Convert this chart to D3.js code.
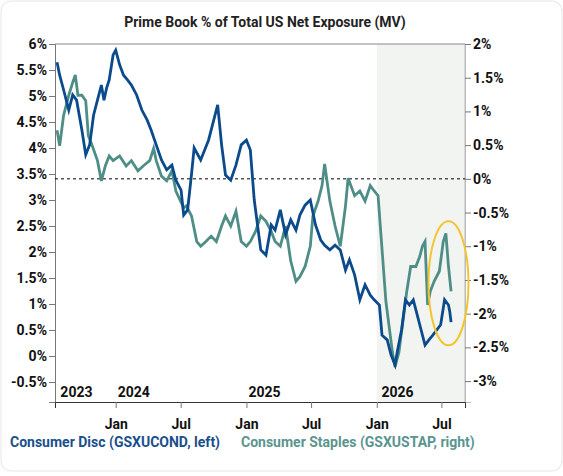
<!DOCTYPE html>
<html><head><meta charset="utf-8">
<script src="https://cdn.jsdelivr.net/npm/d3@7"></script>
<style>body{margin:0;background:#fff}text{font-family:Roboto,"Noto Sans",sans-serif;font-weight:700}</style>
</head><body>
<svg id="c" width="563" height="476"></svg>
<script>
const discT=[2023.55,2023.57,2023.60,2023.64,2023.67,2023.70,2023.74,2023.77,2023.80,2023.83,2023.86,2023.89,2023.91,2023.93,2023.95,2023.98,2024.00,2024.03,2024.06,2024.09,2024.12,2024.16,2024.20,2024.24,2024.27,2024.31,2024.35,2024.39,2024.43,2024.46,2024.50,2024.52,2024.55,2024.58,2024.60,2024.65,2024.71,2024.74,2024.78,2024.81,2024.84,2024.88,2024.92,2024.96,2025.00,2025.03,2025.06,2025.11,2025.15,2025.19,2025.22,2025.26,2025.30,2025.34,2025.38,2025.41,2025.45,2025.49,2025.53,2025.57,2025.60,2025.64,2025.68,2025.72,2025.76,2025.79,2025.83,2025.87,2025.91,2025.95,2025.98,2026.02,2026.04,2026.08,2026.11,2026.14,2026.16,2026.19,2026.22,2026.25,2026.28,2026.31,2026.34,2026.37,2026.40,2026.43,2026.46,2026.49,2026.52,2026.55,2026.56,2026.57];
const discV=[5.65,5.40,5.12,4.73,5.02,4.92,4.35,3.87,4.06,4.63,4.92,5.21,4.92,5.15,5.31,5.79,5.88,5.60,5.40,5.31,5.21,5.02,4.73,4.54,4.35,4.06,3.77,3.58,3.67,3.38,3.19,2.71,2.81,3.5,4.0,3.77,4.15,4.44,4.83,4.06,3.48,3.38,3.67,4.06,4.15,3.96,3.0,2.04,1.94,2.52,2.42,2.81,2.33,2.62,2.42,2.71,2.9,3.0,2.52,2.23,2.13,2.04,2.13,2.04,1.65,1.85,1.56,1.08,1.37,1.17,1.08,0.98,0.40,0.31,0.02,-0.17,0.12,0.5,1.08,0.98,1.08,0.79,0.5,0.21,0.31,0.40,0.5,0.6,1.08,0.98,0.85,0.65];
const stapT=[2023.55,2023.57,2023.60,2023.64,2023.67,2023.69,2023.71,2023.74,2023.77,2023.79,2023.82,2023.86,2023.89,2023.92,2023.95,2023.98,2024.03,2024.08,2024.12,2024.17,2024.21,2024.26,2024.29,2024.31,2024.35,2024.39,2024.43,2024.46,2024.52,2024.54,2024.58,2024.62,2024.65,2024.69,2024.73,2024.77,2024.81,2024.84,2024.88,2024.92,2024.96,2025.00,2025.03,2025.07,2025.11,2025.15,2025.19,2025.22,2025.26,2025.30,2025.34,2025.38,2025.41,2025.45,2025.49,2025.51,2025.55,2025.58,2025.60,2025.64,2025.68,2025.72,2025.76,2025.78,2025.83,2025.87,2025.91,2025.95,2025.98,2026.01,2026.03,2026.05,2026.07,2026.10,2026.12,2026.14,2026.17,2026.20,2026.23,2026.26,2026.30,2026.33,2026.35,2026.37,2026.39,2026.41,2026.44,2026.48,2026.51,2026.53,2026.55,2026.57];
const stapV=[0.72,0.49,0.94,1.24,1.43,1.54,1.24,1.24,1.16,0.64,0.49,0.27,-0.03,0.19,0.34,0.27,0.34,0.19,0.27,0.12,0.19,0.27,0.45,0.27,0.04,-0.03,0.12,-0.18,-0.43,-0.4,-0.55,-0.93,-1.0,-0.93,-0.85,-0.93,-0.7,-0.55,-0.7,-0.48,-0.93,-1.0,-0.93,-0.78,-0.55,-0.63,-0.78,-0.93,-1.0,-0.7,-1.22,-1.52,-1.45,-1.3,-1.0,-0.55,-0.33,-0.1,0.22,-0.33,-0.7,-1.0,-0.4,0.01,-0.25,-0.18,-0.33,-0.1,-0.18,-0.25,-0.78,-1.3,-1.82,-2.27,-2.57,-2.79,-2.57,-2.12,-1.67,-1.3,-1.3,-1.15,-1.0,-0.93,-1.87,-1.67,-1.52,-1.37,-0.93,-0.81,-1.3,-1.67];
const leftTicks=[6,5.5,5,4.5,4,3.5,3,2.5,2,1.5,1,0.5,0,-0.5];
const rightTicks=[2,1.5,1,0.5,0,-0.5,-1,-1.5,-2,-2.5,-3];
const yearLabels=[["2023",2023.56],["2024",2024.0],["2025",2025.0],["2026",2026.02]];

const toDate=y=>{const yr=Math.floor(y);const s=new Date(yr,0,1),e=new Date(yr+1,0,1);return new Date(+s+(y-yr)*(e-s));};
const svg=d3.select("#c");
const L=55,R=465,T=44,B=402;
svg.append("rect").attr("x",1).attr("y",1).attr("width",561).attr("height",470).attr("rx",10).attr("fill","#fff").attr("stroke","#e6e6e6");
const x=d3.scaleTime().domain([new Date(2023,6,15),new Date(2026,8,5)]).range([L,R]);
const yL=d3.scaleLinear().domain([-0.885,6]).range([B,T]);
const yR=d3.scaleLinear().domain([-3.31,2]).range([B,T]);
svg.append("rect").attr("x",x(new Date(2026,0,1))).attr("y",T).attr("width",R-x(new Date(2026,0,1))).attr("height",B-T).attr("fill","#f2f4f1");
svg.append("text").attr("x",265).attr("y",27).attr("text-anchor","middle").attr("font-size",14).attr("fill","#222").text("Prime Book % of Total US Net Exposure (MV)");
svg.append("line").attr("x1",L).attr("x2",R).attr("y1",T).attr("y2",T).attr("stroke","#888");
svg.append("line").attr("x1",R).attr("x2",R).attr("y1",T).attr("y2",B).attr("stroke","#bbb");
const ax=svg.append("g").attr("transform",`translate(${L},0)`).call(d3.axisLeft(yL).tickValues(leftTicks).tickSize(6).tickPadding(2).tickFormat(d=>d+"%"));
const ar=svg.append("g").attr("transform",`translate(${R},0)`).call(d3.axisRight(yR).tickValues(rightTicks).tickSize(6).tickPadding(2).tickFormat(d=>d+"%"));
const ab=svg.append("g").attr("transform",`translate(0,${B})`).call(d3.axisBottom(x).ticks(d3.timeMonth.every(6)).tickSize(6).tickFormat(d3.timeFormat("%b")).tickPadding(11));
[ax,ar,ab].forEach(g=>{g.selectAll("text").attr("font-size",14).attr("fill","#111");g.selectAll("line").attr("stroke","#777");});
ax.select(".domain").attr("stroke","#777");ar.select(".domain").attr("stroke","#bbb");ab.select(".domain").attr("stroke","#333");
svg.append("line").attr("x1",L).attr("x2",R).attr("y1",yR(0)).attr("y2",yR(0)).attr("stroke","#000").attr("stroke-dasharray","3,3");
const line=(ys,T2)=>d3.line().x((d,i)=>x(toDate(T2[i]))).y(d=>ys(d));
svg.append("path").datum(stapV).attr("d",line(yR,stapT)).attr("fill","none").attr("stroke","#4e8e87").attr("stroke-width",2.8);
svg.append("path").datum(discV).attr("d",line(yL,discT)).attr("fill","none").attr("stroke","#0b4a8b").attr("stroke-width",2.8);
yearLabels.forEach(([t,v])=>svg.append("text").attr("x",x(toDate(v))+2).attr("y",397).attr("font-size",14).attr("fill","#111").text(t));
svg.append("ellipse").attr("cx",x(toDate(2026.55))).attr("cy",yR(-1.55)).attr("rx",20).attr("ry",62).attr("fill","none").attr("stroke","#f2c530").attr("stroke-width",2);
svg.append("text").attr("x",10).attr("y",447).attr("font-size",14).attr("fill","#1a4f8c").text("Consumer Disc (GSXUCOND, left)");
svg.append("text").attr("x",241).attr("y",447).attr("font-size",14).attr("fill","#5a958f").text("Consumer Staples (GSXUSTAP, right)");
</script></body></html>
